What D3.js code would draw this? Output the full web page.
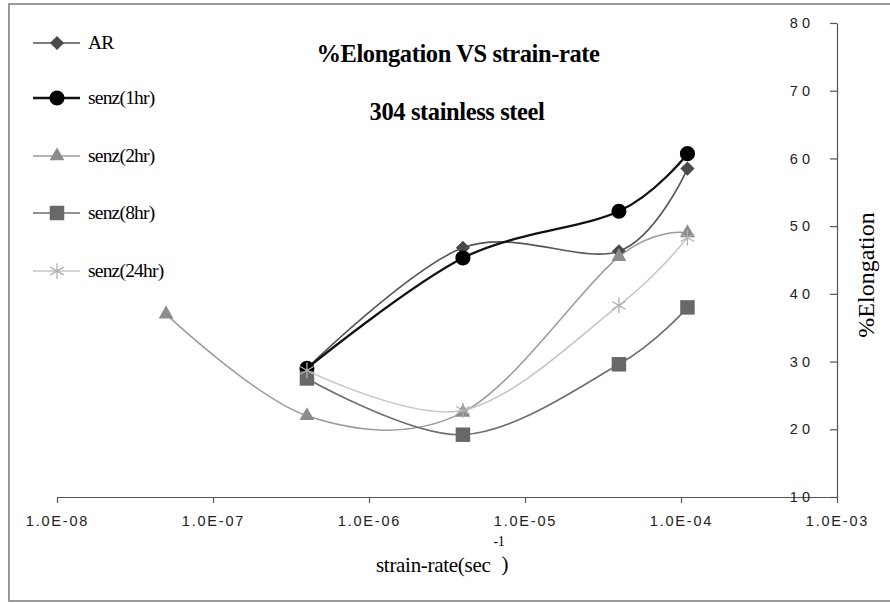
<!doctype html>
<html>
<head>
    <meta charset="UTF-8">
    <title>%Elongation VS strain-rate</title>
    <script src="https://d3js.org/d3.v7.min.js"></script>
    <style>
        body { margin: 0; background: #fff; }
        .tick text { font-family: "Liberation Sans", Arial, sans-serif; font-size: 14.5px; fill: #222; }
    </style>
</head>
<body>
    <svg width="890" height="603" id="chart"></svg>
<script>
// strain rate (1/sec) for each test
var strainRates = [5e-8, 4e-7, 4e-6, 4e-5, 1.1e-4];
// %Elongation per condition (null = not tested)
var arValues    = [null, 29.0, 46.8, 46.3, 58.5];
var senz1Values = [null, 29.0, 45.3, 52.2, 60.7];
var senz2Values = [37.0, 22.0, 22.5, 45.5, 49.0];
var senz8Values = [null, 27.5, 19.2, 29.6, 38.0];
var senz24Values = [null, 28.7, 22.8, 38.3, 48.3];

var seriesNames = ["AR", "senz(1hr)", "senz(2hr)", "senz(8hr)", "senz(24hr)"];
var xTicks = [1e-8, 1e-7, 1e-6, 1e-5, 1e-4, 1e-3];
var yTicks = [10, 20, 30, 40, 50, 60, 70, 80];

var allValues = [arValues, senz1Values, senz2Values, senz8Values, senz24Values];
var styles = [
    {line: "#555", width: 1.6, fill: "#4a4a4a", stroke: "none", sym: "diamond", size: 100},
    {line: "#111", width: 2.3, fill: "#000", stroke: "none", sym: d3.symbolCircle, size: 180},
    {line: "#9a9a9a", width: 1.5, fill: "#8c8c8c", stroke: "none", sym: d3.symbolTriangle, size: 95},
    {line: "#6e6e6e", width: 1.6, fill: "#686868", stroke: "none", sym: d3.symbolSquare, size: 210},
    {line: "#c4c4c4", width: 1.5, fill: "none", stroke: "#b0b0b0", sym: d3.symbolAsterisk, size: 170}
];

var svg = d3.select("#chart");

// outer frame
svg.append("rect").attr("x", 9).attr("y", 4).attr("width", 890).attr("height", 597)
   .attr("fill", "none").attr("stroke", "#777").attr("stroke-width", 1.5);

var x = d3.scaleLog().domain([1e-8, 1e-3]).range([57, 837]);
var y = d3.scaleLinear().domain([10, 80]).range([497, 23]);

// x axis
var xAxis = svg.append("g").attr("transform", "translate(0,497)")
    .call(d3.axisBottom(x).tickValues(xTicks).tickSize(6).tickSizeOuter(0)
        .tickFormat(function(d){
            var e = Math.round(Math.log10(d));
            return "1.0E-" + (e > -10 ? "0" : "") + (-e);
        }));
xAxis.selectAll("text").attr("y", 19).attr("dy", "0.71em").attr("letter-spacing", "1.8px");
xAxis.selectAll("path, line").attr("stroke", "#555").attr("stroke-width", 1.2);

// y axis on the right, labels to the left
var yAxis = svg.append("g").attr("transform", "translate(837,0)")
    .call(d3.axisLeft(y).tickValues(yTicks).tickSize(7).tickSizeOuter(0));
yAxis.selectAll("text").attr("x", -23).attr("letter-spacing", "4px");
yAxis.selectAll("path, line").attr("stroke", "#555").attr("stroke-width", 1.2);

// axis titles
svg.append("text").attr("transform", "translate(874,275) rotate(-90)")
   .attr("text-anchor", "middle").attr("font-family", "Liberation Serif, serif")
   .attr("font-size", 24).text("%Elongation");

var xt = svg.append("text").attr("x", 376).attr("y", 572)
   .attr("font-family", "Liberation Serif, serif").attr("font-size", 21).attr("letter-spacing", "-0.3px");
xt.append("tspan").text("strain-rate(sec");
xt.append("tspan").attr("dy", -26).attr("dx", 3).attr("font-size", 14).text("-1");
xt.append("tspan").attr("dy", 25).attr("dx", -3).text(")");

// titles
svg.append("text").attr("x", 458).attr("y", 62).attr("text-anchor", "middle")
   .attr("font-family", "Liberation Serif, serif").attr("font-weight", "bold")
   .attr("font-size", 24.5).attr("letter-spacing", "-0.4px").text("%Elongation VS strain-rate");
svg.append("text").attr("x", 457).attr("y", 120).attr("text-anchor", "middle")
   .attr("font-family", "Liberation Serif, serif").attr("font-weight", "bold")
   .attr("font-size", 24.5).attr("letter-spacing", "-0.4px").text("304 stainless steel");

function symbolPath(st){
    if(st.sym === "diamond") return d3.symbol(d3.symbolSquare, st.size)();
    return d3.symbol(st.sym, st.size)();
}
function symbolRotate(st){
    return st.sym === "diamond" ? " rotate(45)" : "";
}

var line = d3.line()
    .defined(function(d){ return d.v !== null; })
    .x(function(d){ return x(d.r); })
    .y(function(d){ return y(d.v); })
    .curve(d3.curveCardinal.tension(0));

for(var i = 0 ; i < allValues.length ; i++){
    var st = styles[i];
    var pts = strainRates.map(function(r, j){ return {r: r, v: allValues[i][j]}; })
        .filter(function(d){ return d.v !== null; });
    svg.append("path").datum(pts).attr("d", line)
        .attr("fill", "none").attr("stroke", st.line).attr("stroke-width", st.width);
    svg.append("g").selectAll("path").data(pts).enter().append("path")
        .attr("d", symbolPath(st))
        .attr("transform", function(d){ return "translate(" + x(d.r) + "," + y(d.v) + ")" + symbolRotate(st); })
        .attr("fill", st.fill).attr("stroke", st.stroke).attr("stroke-width", 1.3);
}

// legend
var legendY = [43, 98, 156, 213, 271];
for(var k = 0 ; k < seriesNames.length ; k++){
    var s = styles[k];
    var g = svg.append("g").attr("transform", "translate(0," + legendY[k] + ")");
    g.append("line").attr("x1", 33).attr("x2", 80).attr("y1", 0).attr("y2", 0)
        .attr("stroke", s.line).attr("stroke-width", s.width);
    g.append("path").attr("d", symbolPath(s))
        .attr("transform", "translate(57,0)" + symbolRotate(s))
        .attr("fill", s.fill).attr("stroke", s.stroke).attr("stroke-width", 1.3);
    g.append("text").attr("x", 88).attr("y", 6).attr("font-family", "Liberation Serif, serif")
        .attr("font-size", 19.5).attr("letter-spacing", "-0.8px").text(seriesNames[k]);
}
</script>
</body>
</html>
